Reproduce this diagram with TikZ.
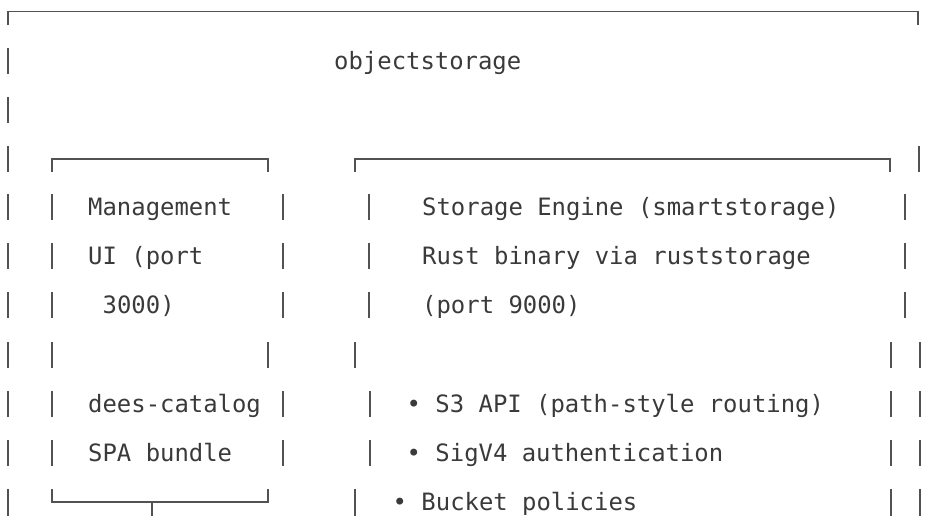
\documentclass[tikz,border=0pt]{standalone}
\usepackage{fontspec}
\setmonofont{DejaVu Sans Mono}
\usetikzlibrary{positioning}
\definecolor{inkgray}{RGB}{58,58,58}
\definecolor{rulegray}{RGB}{82,82,82}

\begin{document}
\begin{tikzpicture}[x=1pt,y=-1pt,
    asciitext/.style={anchor=base west,inner sep=0pt,text=inkgray,
      font=\ttfamily\fontsize{23.9}{28}\selectfont},
    boxline/.style={draw=rulegray,line width=1.9pt}]
  \useasboundingbox (0,0) rectangle (930,515);

  % outer frame (top edge only shows)
  \draw[boxline] (8,25) -- (8,11.5) -- (918,11.5) -- (918,25);
  \node[asciitext] (title) at (334,69) {objectstorage};

  % inner boxes
  \draw[boxline] (52,172) -- (52,159) -- (268,159) -- (268,172);
  \draw[boxline] (355,172) -- (355,159) -- (890,159) -- (890,172);
  \draw[boxline] (52,489) -- (52,502) -- (268,502) -- (268,489);
  \draw[boxline] (152,502) -- (152,516);

  % vertical bars, row by row
  \foreach \py in {61,110} \draw[boxline] (8,\py-13) -- (8,\py+13);
  \foreach \px in {8,919} \draw[boxline] (\px,146) -- (\px,172);
  \foreach \py in {207,256,305}
    \foreach \px in {8,52,283,369,905}
      \draw[boxline] (\px,\py-13) -- (\px,\py+13);
  \foreach \px in {8,52,268,355,891,920} \draw[boxline] (\px,342) -- (\px,368);
  \foreach \py in {404,453}
    \foreach \px in {8,52,283,370,891,920}
      \draw[boxline] (\px,\py-13) -- (\px,\py+13);
  \foreach \px in {8,355,891,920} \draw[boxline] (\px,489) -- (\px,516);

  % management ui
  \node[asciitext] (ui1) at (88,215) {Management};
  \node[asciitext] (ui2) at (88,264) {UI (port};
  \node[asciitext] (ui3) at (102.5,313) {3000)};
  \node[asciitext] (ui4) at (88,412) {dees-catalog};
  \node[asciitext] (ui5) at (88,461) {SPA bundle};

  % storage engine
  \node[asciitext] (eng1) at (422,215) {Storage Engine (smartstorage)};
  \node[asciitext] (eng2) at (422,264) {Rust binary via ruststorage};
  \node[asciitext] (eng3) at (422,313) {(port 9000)};
  \node[asciitext] (feat1) at (406.5,412) {• S3 API (path-style routing)};
  \node[asciitext] (feat2) at (406.5,461) {• SigV4 authentication};
  \node[asciitext] (feat3) at (392.5,510) {• Bucket policies};
\end{tikzpicture}
\end{document}
